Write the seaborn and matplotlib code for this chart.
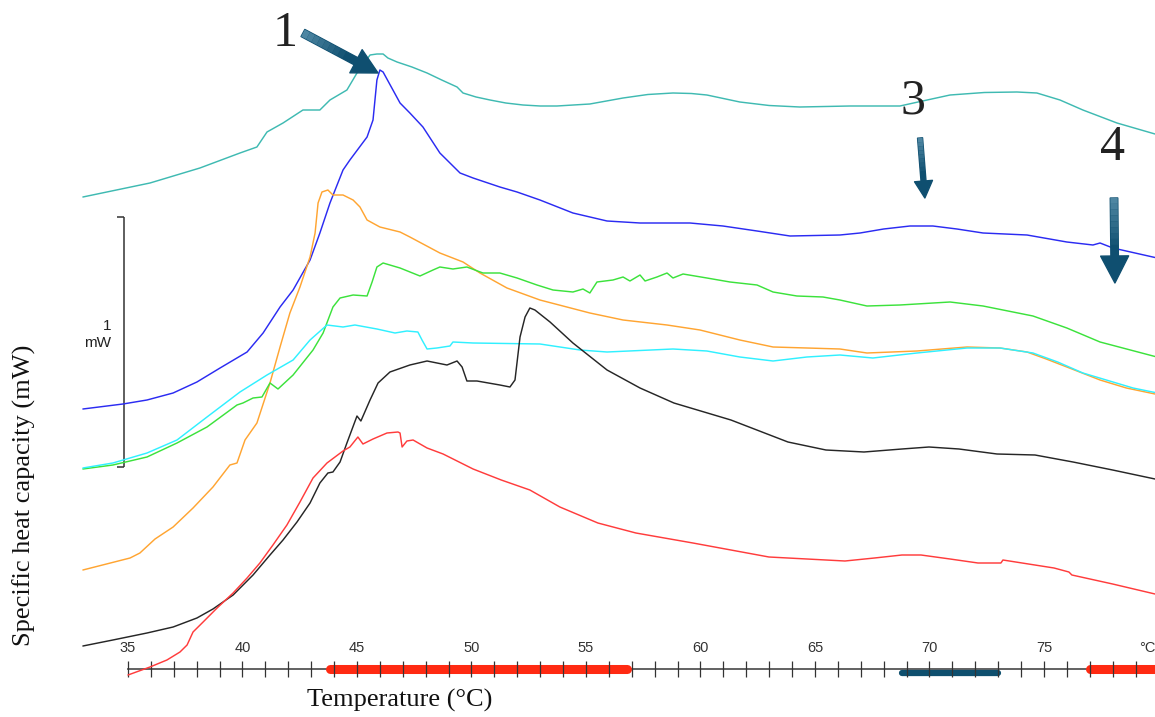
import numpy as np
import pandas as pd
import matplotlib
matplotlib.use("Agg")
import matplotlib.pyplot as plt
from matplotlib.patches import FancyArrowPatch
import seaborn as sns

# ---- DSC traces: temperature (°C) and heat flow (mW, stacked offsets) ----
teal_T = [33.03, 35.96, 38.14, 39.89, 40.63, 41.07, 41.77, 42.64, 43.38, 43.82, 44.56, 45.00, 45.57,
          45.87, 46.14, 46.35, 46.75, 47.40, 48.06, 48.70, 49.37, 49.63, 50.20, 50.81, 51.50, 52.25,
          53.00, 53.73, 55.17, 56.62, 57.70, 58.80, 59.60, 60.28, 61.00, 61.72, 63.00, 64.34, 66.53,
          68.71, 69.80, 70.90, 72.40, 73.82, 74.69, 75.70, 76.70, 78.19, 79.85]
teal_mW = [1.888, 1.944, 2.004, 2.064, 2.088, 2.148, 2.184, 2.236, 2.236, 2.276, 2.316, 2.384, 2.456,
           2.460, 2.460, 2.444, 2.428, 2.408, 2.384, 2.356, 2.328, 2.304, 2.288, 2.276, 2.264, 2.256,
           2.252, 2.252, 2.260, 2.284, 2.298, 2.304, 2.302, 2.296, 2.282, 2.268, 2.254, 2.248, 2.252,
           2.252, 2.274, 2.296, 2.306, 2.308, 2.304, 2.276, 2.236, 2.184, 2.140]

blue_T = [33.03, 34.78, 35.83, 36.97, 38.01, 39.02, 40.20, 40.90, 41.64, 42.21, 42.95, 43.38, 43.82,
          44.39, 44.69, 45.44, 45.70, 45.87, 46.00, 46.14, 46.57, 46.88, 47.31, 47.88, 48.62, 49.50,
          50.07, 51.24, 51.99, 52.99, 54.43, 55.92, 57.36, 59.54, 60.98, 62.47, 63.91, 66.09, 66.97,
          68.00, 69.15, 70.15, 71.20, 72.34, 74.26, 76.00, 77.14, 77.45, 78.01, 79.85]
blue_mW = [1.040, 1.060, 1.076, 1.104, 1.148, 1.204, 1.268, 1.344, 1.448, 1.516, 1.636, 1.744, 1.864,
           1.996, 2.036, 2.128, 2.196, 2.356, 2.396, 2.388, 2.316, 2.264, 2.224, 2.168, 2.064, 1.984,
           1.964, 1.928, 1.908, 1.876, 1.824, 1.792, 1.784, 1.784, 1.772, 1.752, 1.732, 1.736, 1.744,
           1.760, 1.772, 1.772, 1.760, 1.744, 1.736, 1.708, 1.696, 1.704, 1.684, 1.646]

orange_T = [33.03, 35.09, 35.52, 36.18, 36.97, 37.84, 38.71, 39.45, 39.76, 40.11, 40.63, 41.20, 41.64,
            42.07, 42.51, 42.95, 43.17, 43.30, 43.47, 43.73, 43.95, 44.39, 44.83, 45.13, 45.44, 46.00,
            46.88, 47.31, 48.62, 49.63, 50.37, 51.55, 52.99, 55.17, 56.62, 58.54, 59.98, 61.72, 63.17,
            64.65, 66.09, 67.27, 69.45, 71.64, 73.08, 74.26, 75.10, 76.00, 77.45, 78.60, 79.85]
orange_mW = [0.396, 0.444, 0.464, 0.520, 0.568, 0.644, 0.728, 0.816, 0.824, 0.916, 0.984, 1.144, 1.288,
             1.424, 1.528, 1.648, 1.744, 1.864, 1.908, 1.916, 1.896, 1.896, 1.876, 1.848, 1.796, 1.768,
             1.748, 1.728, 1.664, 1.628, 1.584, 1.524, 1.476, 1.424, 1.396, 1.376, 1.356, 1.316, 1.288,
             1.284, 1.280, 1.264, 1.272, 1.288, 1.284, 1.268, 1.240, 1.208, 1.156, 1.124, 1.100]

green_T = [33.03, 34.34, 35.83, 37.14, 38.45, 39.76, 40.02, 40.46, 40.85, 41.20, 41.55, 42.21, 43.08,
           43.52, 43.95, 44.26, 44.83, 45.44, 45.66, 45.87, 46.14, 46.88, 47.75, 48.32, 48.62, 49.19,
           49.80, 50.50, 51.24, 51.99, 52.86, 53.56, 54.43, 54.87, 55.17, 55.48, 56.18, 56.62, 56.92,
           57.36, 57.58, 58.10, 58.54, 58.80, 59.24, 60.28, 61.29, 62.47, 63.17, 64.21, 65.35, 66.09,
           67.27, 68.71, 70.90, 72.34, 74.52, 76.00, 77.45, 79.85]
green_mW = [0.800, 0.816, 0.848, 0.904, 0.968, 1.056, 1.064, 1.084, 1.088, 1.144, 1.120, 1.176, 1.276,
            1.344, 1.448, 1.484, 1.496, 1.492, 1.548, 1.608, 1.624, 1.604, 1.572, 1.596, 1.608, 1.600,
            1.608, 1.584, 1.584, 1.564, 1.536, 1.516, 1.508, 1.520, 1.504, 1.548, 1.556, 1.568, 1.552,
            1.576, 1.552, 1.568, 1.584, 1.564, 1.580, 1.564, 1.548, 1.536, 1.508, 1.492, 1.488, 1.476,
            1.452, 1.456, 1.468, 1.452, 1.412, 1.364, 1.308, 1.250]

cyan_T = [33.03, 34.34, 35.83, 37.14, 38.45, 39.89, 41.07, 42.21, 42.95, 43.69, 44.39, 44.91, 45.87,
          46.66, 47.18, 47.66, 47.84, 48.06, 48.49, 49.06, 49.19, 50.07, 52.99, 54.74, 55.92, 58.80,
          60.28, 61.72, 63.17, 64.65, 66.09, 67.53, 69.45, 71.64, 73.08, 74.52, 75.60, 76.70, 78.89,
          79.85]
cyan_mW = [0.804, 0.824, 0.864, 0.916, 1.008, 1.108, 1.176, 1.236, 1.316, 1.376, 1.368, 1.376, 1.360,
           1.344, 1.352, 1.348, 1.316, 1.280, 1.284, 1.292, 1.308, 1.304, 1.300, 1.276, 1.268, 1.280,
           1.272, 1.248, 1.232, 1.248, 1.256, 1.244, 1.264, 1.284, 1.284, 1.264, 1.228, 1.184, 1.124,
           1.106]

black_T = [33.03, 34.34, 35.83, 36.97, 38.01, 38.71, 39.59, 40.46, 41.20, 41.77, 42.38, 42.95, 43.38,
           43.73, 43.95, 44.26, 44.56, 45.00, 45.17, 45.57, 45.92, 46.44, 47.31, 48.06, 48.93, 49.37,
           49.59, 49.80, 50.24, 51.24, 51.68, 51.90, 52.12, 52.34, 52.55, 52.77, 53.43, 54.43, 55.92,
           57.36, 58.84, 61.33, 63.82, 65.48, 67.14, 68.80, 69.98, 71.29, 72.95, 74.61, 76.27, 78.00,
           79.85]
black_mW = [0.092, 0.116, 0.144, 0.168, 0.204, 0.240, 0.296, 0.376, 0.456, 0.516, 0.588, 0.664, 0.744,
            0.784, 0.788, 0.828, 0.904, 1.012, 0.992, 1.076, 1.144, 1.188, 1.216, 1.232, 1.216, 1.232,
            1.208, 1.152, 1.152, 1.136, 1.128, 1.156, 1.328, 1.408, 1.444, 1.436, 1.388, 1.304, 1.196,
            1.124, 1.064, 0.996, 0.908, 0.876, 0.868, 0.880, 0.888, 0.880, 0.860, 0.856, 0.828, 0.796,
            0.760]

red_T = [35.00, 35.96, 36.70, 37.27, 37.58, 37.84, 38.28, 38.89, 39.59, 40.20, 40.76, 41.33, 41.94,
         42.51, 43.08, 43.69, 44.39, 44.69, 45.04, 45.26, 45.70, 46.31, 46.79, 46.88, 46.97, 47.18,
         47.45, 48.06, 48.76, 50.07, 51.30, 52.55, 53.86, 55.52, 57.18, 59.67, 62.99, 66.31, 67.60,
         68.80, 69.63, 70.90, 72.12, 73.12, 73.21, 75.44, 76.09, 76.22, 78.00, 79.85]
red_mW = [-0.024, 0.008, 0.036, 0.068, 0.096, 0.148, 0.188, 0.244, 0.304, 0.364, 0.424, 0.496, 0.576,
          0.668, 0.764, 0.824, 0.872, 0.888, 0.928, 0.900, 0.920, 0.944, 0.948, 0.944, 0.888, 0.912,
          0.916, 0.884, 0.860, 0.800, 0.756, 0.716, 0.648, 0.584, 0.544, 0.504, 0.448, 0.432, 0.444,
          0.456, 0.456, 0.440, 0.424, 0.424, 0.436, 0.404, 0.388, 0.376, 0.340, 0.300]

series_names = ["teal", "blue", "orange", "green", "cyan", "black", "red"]
series_T = [teal_T, blue_T, orange_T, green_T, cyan_T, black_T, red_T]
series_mW = [teal_mW, blue_mW, orange_mW, green_mW, cyan_mW, black_mW, red_mW]
series_colors = {"teal": "#3fbab2", "blue": "#2b2bf2", "orange": "#ffa532", "green": "#3ce23c",
                 "cyan": "#30f0ff", "black": "#262626", "red": "#ff3c3c"}

# temperature axis
major_ticks = [35, 40, 45, 50, 55, 60, 65, 70, 75]
major_labels = ["35", "40", "45", "50", "55", "60", "65", "70", "75"]
minor_ticks = list(range(35, 80))
unit_label = "°C"

# highlighted temperature windows on the axis
red_windows = [(43.8, 56.8), (77.0, 79.85)]
blue_windows = [(68.8, 73.0)]

# scale bar (1 mW)
scale_T = 34.83
scale_bottom = 0.808
scale_height = 1.0

# numbered annotations: (label, label position, arrow tail, arrow head, size)
annotations = [
    ("1", (41.86, 2.540), (42.64, 2.544), (45.92, 2.384), (1.0, 1.05, 0.32)),
    ("3", (69.26, 2.272), (69.59, 2.124), (69.80, 1.884), (0.68, 0.72, 0.20)),
    ("4", (78.01, 2.084), (78.06, 1.884), (78.10, 1.544), (1.08, 1.12, 0.30)),
]

frames = [pd.DataFrame({"T": t, "mW": v, "trace": n}) for n, t, v in zip(series_names, series_T, series_mW)]
df = pd.concat(frames, ignore_index=True)

sns.set_style("white")
plt.rcParams["font.family"] = ["Liberation Sans", "DejaVu Sans"]

fig = plt.figure(figsize=(11.55, 7.17), dpi=100)
ax = fig.add_axes([0, 0, 1, 1])

sns.lineplot(data=df, x="T", y="mW", hue="trace", palette=series_colors, hue_order=series_names,
             sort=False, estimator=None, legend=False, linewidth=1.05, ax=ax)
for ln in ax.get_lines():
    ln.set_solid_joinstyle("round")
    ln.set_zorder(3)

ax.set_xlim(29.41, 79.85)
ax.set_ylim(-0.192, 2.676)
ax.set_xlabel("")
ax.set_ylabel("")

for side in ["top", "left", "right"]:
    ax.spines[side].set_visible(False)
ax.spines["bottom"].set_position(("data", 0))
ax.spines["bottom"].set_bounds(35, 79.85)
ax.spines["bottom"].set_color("#555555")
ax.spines["bottom"].set_linewidth(1.3)
ax.spines["bottom"].set_zorder(1)
ax.xaxis.set_zorder(2.5)
ax.set_yticks([])
ax.set_xticks(major_ticks)
ax.set_xticks(minor_ticks, minor=True)
ax.tick_params(axis="x", which="both", bottom=True, direction="inout", length=12, width=0.9,
               color="#333333", labelbottom=False)

for t, lab in zip(major_ticks, major_labels):
    ax.annotate(lab, xy=(t, 0), xytext=(0, 10), textcoords="offset points",
                ha="center", va="bottom", fontsize=10.5, color="#333333")
ax.annotate(unit_label, xy=(79.85, 0), xytext=(0, 10), textcoords="offset points",
            ha="right", va="bottom", fontsize=10.5, color="#333333")

# temperature windows sit on the axis line, under the tick marks
for a, b in red_windows:
    ax.hlines(0, a, b, color="#ff2a12", linewidth=6.5, capstyle="round", zorder=2)
for a, b in blue_windows:
    ax.hlines(-0.016, a, b, color="#0e4f6e", linewidth=4.5, capstyle="round", zorder=2)

# 1 mW scale bar
sb_color = "#333333"
ax.vlines(scale_T, scale_bottom, scale_bottom + scale_height, color=sb_color, linewidth=1.1)
ax.hlines([scale_bottom, scale_bottom + scale_height], scale_T - 0.33, scale_T,
          color=sb_color, linewidth=1.1)
ax.text(34.28, scale_bottom + 0.5 * scale_height + 0.03, "1\nmW", ha="right", va="center",
        multialignment="right", fontsize=11, color="#222222", linespacing=1.35)

# numbered arrows with a lighter tail fading into the dark head
dark = np.array([0x0f, 0x4f, 0x70]) / 255
light = np.array([0x4e, 0x86, 0xa2]) / 255
for lab, lpos, tail, head, (hl, hw, tw) in annotations:
    ax.text(lpos[0], lpos[1], lab, ha="center", va="center", fontsize=36,
            family="Liberation Serif", color="#222222")
    arrow = FancyArrowPatch(tail, head,
                            arrowstyle=f"simple,head_length={hl},head_width={hw},tail_width={tw}",
                            mutation_scale=18, color=dark, shrinkA=0, shrinkB=0, zorder=5)
    ax.add_patch(arrow)
    steps = 8
    for i in range(steps):
        f0, f1 = i / steps * 0.55, (i + 1) / steps * 0.55
        p0 = (tail[0] + (head[0] - tail[0]) * f0, tail[1] + (head[1] - tail[1]) * f0)
        p1 = (tail[0] + (head[0] - tail[0]) * f1, tail[1] + (head[1] - tail[1]) * f1)
        c = light + (dark - light) * (i / steps)
        ax.plot([p0[0], p1[0]], [p0[1], p1[1]], color=c, linewidth=tw * 18 * 0.98,
                solid_capstyle="butt", zorder=6)

fig.text(24 / 1155, 1 - 495 / 717, "Specific heat capacity (mW)", rotation=90,
         ha="center", va="center", fontsize=19, family="Liberation Serif", color="#111111")
fig.text(400 / 1155, 1 - 700 / 717, "Temperature (°C)", ha="center", va="center",
         fontsize=19, family="Liberation Serif", color="#111111")

fig.savefig("out.png", dpi=100)
